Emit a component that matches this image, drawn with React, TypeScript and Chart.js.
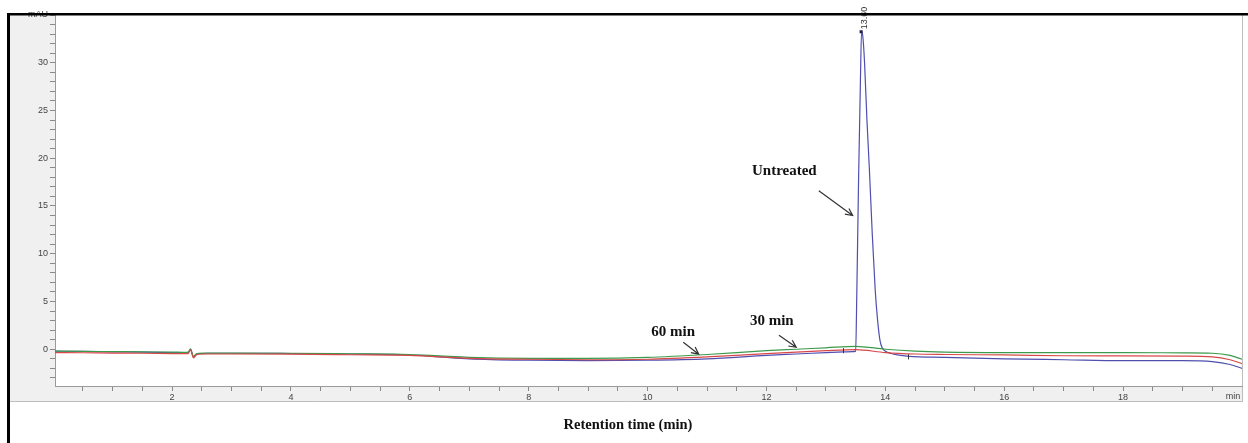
import React, { useEffect, useRef } from "react";
import { Chart, registerables } from "chart.js";

Chart.register(...registerables);

// Retention times (min) for the 30 min / 60 min traces
const tBase = [0.03, 0.5, 1, 1.5, 2, 2.2, 2.27, 2.31, 2.36, 2.42, 2.6, 3, 4, 5, 6, 6.5, 7, 8, 9, 10, 11, 12, 12.5, 13, 13.5, 14, 14.5, 15, 16, 17, 18, 19, 19.5, 19.8, 20];
// 60 min (green)
const greenVals = [-0.2, -0.22, -0.25, -0.28, -0.3, -0.32, -0.3, 0.05, -0.75, -0.45, -0.4, -0.4, -0.42, -0.48, -0.55, -0.7, -0.85, -0.95, -0.95, -0.85, -0.55, -0.15, 0.0, 0.15, 0.3, 0.0, -0.2, -0.3, -0.35, -0.35, -0.35, -0.38, -0.42, -0.65, -1.05];
// 30 min (red)
const redVals = [-0.35, -0.37, -0.4, -0.42, -0.45, -0.47, -0.45, -0.1, -0.9, -0.55, -0.5, -0.5, -0.52, -0.58, -0.65, -0.8, -0.95, -1.05, -1.1, -1.05, -0.8, -0.45, -0.3, -0.15, -0.05, -0.35, -0.5, -0.55, -0.6, -0.68, -0.7, -0.72, -0.8, -1.1, -1.5];
// Untreated (blue)
const tBlue = [0.03, 0.5, 1, 1.5, 2, 2.2, 2.27, 2.31, 2.36, 2.42, 2.6, 3, 4, 5, 6, 6.5, 7, 8, 9, 10, 11, 12, 12.5, 13, 13.3, 13.45, 13.5, 13.52, 13.55, 13.58, 13.6, 13.62, 13.65, 13.69, 13.73, 13.78, 13.83, 13.87, 13.91, 13.95, 14.0, 14.1, 14.2, 14.4, 15, 16, 17, 18, 19, 19.5, 19.8, 20];
const blueVals = [-0.2, -0.23, -0.27, -0.3, -0.35, -0.37, -0.35, 0.0, -0.8, -0.45, -0.42, -0.42, -0.45, -0.5, -0.6, -0.8, -1.0, -1.15, -1.2, -1.15, -1.0, -0.65, -0.5, -0.35, -0.28, -0.25, -0.2, 6, 18, 28, 33.3, 32.8, 30, 24, 19, 12, 6.1, 3, 0.9, 0.1, -0.2, -0.45, -0.6, -0.75, -0.85, -1.0, -1.1, -1.2, -1.2, -1.3, -1.6, -2.0];

// Axes
const xMin = 0.03;
const xMax = 20;
const yMin = -3.85;
const yMax = 35;
const xTicks = [0.5, 1, 1.5, 2, 2.5, 3, 3.5, 4, 4.5, 5, 5.5, 6, 6.5, 7, 7.5, 8, 8.5, 9, 9.5, 10, 10.5, 11, 11.5, 12, 12.5, 13, 13.5, 14, 14.5, 15, 15.5, 16, 16.5, 17, 17.5, 18, 18.5, 19, 19.5];
const xLabeled = [2, 4, 6, 8, 10, 12, 14, 16, 18];
const yTicks = [-3, -2, -1, 0, 1, 2, 3, 4, 5, 6, 7, 8, 9, 10, 11, 12, 13, 14, 15, 16, 17, 18, 19, 20, 21, 22, 23, 24, 25, 26, 27, 28, 29, 30, 31, 32, 33, 34, 35];
const yLabeled = [0, 5, 10, 15, 20, 25, 30];
const yUnitValue = 35;
const yUnit = "mAU";
const xUnit = "min";
const xTitle = "Retention time (min)";
const peakLabel = "13.60";
const peakTime = 13.6;
const peakHeight = 33.3;

// Annotations (data coordinates)
const notes = [
  { text: "Untreated", x: 12.3, y: 18.6 },
  { text: "60 min", x: 10.43, y: 1.77 },
  { text: "30 min", x: 12.09, y: 2.92 },
];
const arrows = [
  { x1: 12.88, y1: 16.6, x2: 13.45, y2: 14.0 },
  { x1: 10.6, y1: 0.73, x2: 10.86, y2: -0.52 },
  { x1: 12.21, y1: 1.46, x2: 12.5, y2: 0.21 },
];
// integration marks
const marks = [
  { x: 13.29, y: -0.1 },
  { x: 14.38, y: -0.75 },
];

const framePlugin = {
  id: "frame",
  beforeDraw(chart: any) {
    const { ctx, chartArea: ca, width, height } = chart;
    ctx.save();
    ctx.fillStyle = "#ffffff";
    ctx.fillRect(0, 0, width, height);
    ctx.fillStyle = "#f0f0f0";
    ctx.fillRect(10, 15, 1233, 387);
    ctx.fillStyle = "#ffffff";
    ctx.fillRect(ca.left, ca.top, ca.right - ca.left, ca.bottom - ca.top);
    ctx.strokeStyle = "#bdbdbd";
    ctx.lineWidth = 1;
    ctx.beginPath();
    ctx.moveTo(10, 401.5);
    ctx.lineTo(1243, 401.5);
    ctx.stroke();
    ctx.beginPath();
    ctx.moveTo(ca.right + 0.5, 15);
    ctx.lineTo(ca.right + 0.5, 402);
    ctx.stroke();
    ctx.restore();
  },
  afterDraw(chart: any) {
    const { ctx, chartArea: ca, width, height } = chart;
    const xs = chart.scales.x;
    const ys = chart.scales.y;
    ctx.save();

    // integration marks
    ctx.strokeStyle = "#333";
    ctx.lineWidth = 1;
    for (const m of marks) {
      const px = Math.round(xs.getPixelForValue(m.x)) + 0.5;
      const py = ys.getPixelForValue(m.y);
      ctx.beginPath();
      ctx.moveTo(px, py - 2);
      ctx.lineTo(px, py + 3);
      ctx.stroke();
    }

    // peak label (rotated)
    const ppx = xs.getPixelForValue(peakTime);
    const ppy = ys.getPixelForValue(peakHeight);
    ctx.fillStyle = "#222244";
    ctx.fillRect(ppx - 2, ppy - 1, 3, 3);
    ctx.save();
    ctx.translate(ppx + 3, ppy - 2);
    ctx.rotate(-Math.PI / 2);
    ctx.font = '9px "Liberation Sans", Arial, sans-serif';
    ctx.fillStyle = "#333";
    ctx.textAlign = "left";
    ctx.textBaseline = "middle";
    ctx.fillText(peakLabel, 0, 0);
    ctx.restore();

    // annotations
    ctx.font = 'bold 15px "Liberation Serif", "Times New Roman", serif';
    ctx.fillStyle = "#111";
    ctx.textAlign = "center";
    ctx.textBaseline = "middle";
    for (const n of notes) {
      ctx.fillText(n.text, xs.getPixelForValue(n.x), ys.getPixelForValue(n.y));
    }
    ctx.strokeStyle = "#333";
    ctx.lineWidth = 1.2;
    for (const a of arrows) {
      const x1 = xs.getPixelForValue(a.x1);
      const y1 = ys.getPixelForValue(a.y1);
      const x2 = xs.getPixelForValue(a.x2);
      const y2 = ys.getPixelForValue(a.y2);
      const ang = Math.atan2(y2 - y1, x2 - x1);
      const hl = 8;
      const spread = 0.45;
      ctx.beginPath();
      ctx.moveTo(x1, y1);
      ctx.lineTo(x2, y2);
      ctx.moveTo(x2 - hl * Math.cos(ang - spread), y2 - hl * Math.sin(ang - spread));
      ctx.lineTo(x2, y2);
      ctx.lineTo(x2 - hl * Math.cos(ang + spread), y2 - hl * Math.sin(ang + spread));
      ctx.stroke();
    }

    // x unit
    ctx.font = '9px "Liberation Sans", Arial, sans-serif';
    ctx.fillStyle = "#444";
    ctx.textAlign = "center";
    ctx.textBaseline = "top";
    ctx.fillText(xUnit, ca.right - 9, ca.bottom + 6);

    // x title
    ctx.font = 'bold 14.5px "Liberation Serif", "Times New Roman", serif';
    ctx.fillStyle = "#111";
    ctx.textBaseline = "middle";
    ctx.fillText(xTitle, width / 2 + 4, 425);

    // black outer border
    ctx.fillStyle = "#000";
    ctx.fillRect(7, 13, width - 7, 2.5);
    ctx.fillRect(7, 13, 3, height - 13);
    ctx.restore();
  },
};

export default function App() {
  const ref = useRef<HTMLCanvasElement | null>(null);
  useEffect(() => {
    if (!ref.current) return;
    const mk = (ts: number[], vs: number[]) => ts.map((t, i) => ({ x: t, y: vs[i] }));
    const chart = new Chart(ref.current, {
      type: "line",
      data: {
        datasets: [
          {
            label: "30 min",
            data: mk(tBase, redVals),
            borderColor: "#d94848",
            borderWidth: 1.2,
            pointRadius: 0,
            cubicInterpolationMode: "monotone",
          },
          {
            label: "60 min",
            data: mk(tBase, greenVals),
            borderColor: "#3c9a4c",
            borderWidth: 1.2,
            pointRadius: 0,
            cubicInterpolationMode: "monotone",
          },
          {
            label: "Untreated",
            data: mk(tBlue, blueVals),
            borderColor: "#4f4fb0",
            borderWidth: 1.2,
            pointRadius: 0,
            cubicInterpolationMode: "monotone",
          },
        ],
      },
      options: {
        responsive: false,
        animation: false,
        devicePixelRatio: 1,
        parsing: false as any,
        layout: { padding: { top: 15, right: 6, left: 0, bottom: 0 } },
        plugins: { legend: { display: false }, tooltip: { enabled: false } },
        scales: {
          x: {
            type: "linear",
            min: xMin,
            max: xMax,
            afterBuildTicks: (s: any) => {
              s.ticks = xTicks.map((v) => ({ value: v }));
            },
            afterFit: (s: any) => {
              s.height = 57;
            },
            ticks: {
              autoSkip: false,
              maxRotation: 0,
              padding: 1,
              color: "#444",
              font: { family: '"Liberation Sans", Arial, sans-serif', size: 9 },
              callback: (v: any) => (xLabeled.includes(Number(v)) ? String(v) : ""),
            },
            grid: { drawOnChartArea: false, drawTicks: true, tickLength: 5, color: "#8a8a8a" },
            border: { display: true, color: "#9a9a9a", width: 1 },
          },
          y: {
            type: "linear",
            min: yMin,
            max: yMax,
            afterBuildTicks: (s: any) => {
              s.ticks = yTicks.map((v) => ({ value: v }));
            },
            afterFit: (s: any) => {
              s.width = 55;
            },
            ticks: {
              autoSkip: false,
              padding: 2,
              color: "#444",
              font: { family: '"Liberation Sans", Arial, sans-serif', size: 9 },
              callback: (v: any) => {
                const n = Number(v);
                if (n === yUnitValue) return yUnit;
                return yLabeled.includes(n) ? String(n) : "";
              },
            },
            grid: { drawOnChartArea: false, drawTicks: true, tickLength: 5, color: "#8a8a8a" },
            border: { display: true, color: "#9a9a9a", width: 1 },
          },
        },
      },
      plugins: [framePlugin],
    } as any);
    return () => chart.destroy();
  }, []);
  return (
    <div style={{ position: "absolute", left: 0, top: 0, width: 1248, height: 443 }}>
      <canvas ref={ref} width={1248} height={443} style={{ display: "block" }} />
    </div>
  );
}
